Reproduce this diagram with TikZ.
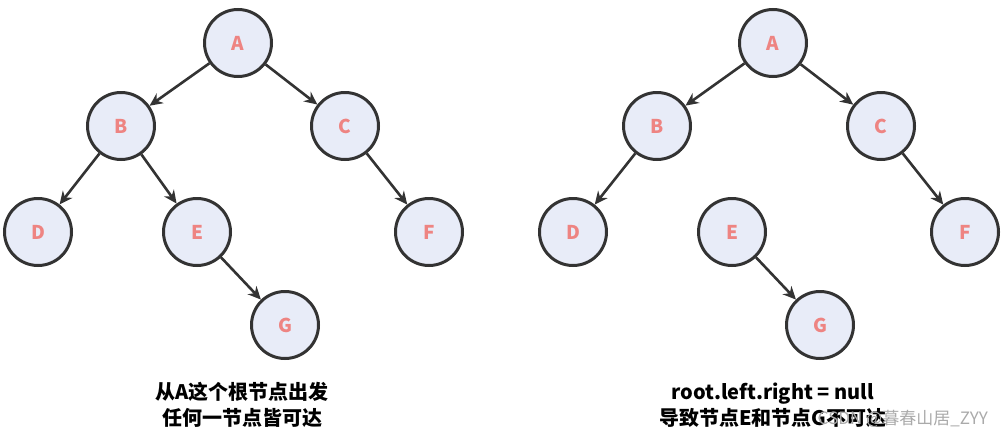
\documentclass[tikz,border=0pt]{standalone}
\usepackage{fontspec}
\newfontfamily\cjk{Noto Sans CJK SC}
\usetikzlibrary{arrows.meta}
\definecolor{nodefill}{RGB}{232,236,248}
\definecolor{nodeline}{RGB}{51,51,51}
\definecolor{lettercol}{RGB}{238,132,130}
\definecolor{wmcol}{RGB}{170,170,170}
\tikzset{
  tnode/.style={circle, draw=nodeline, fill=nodefill, line width=3pt, minimum size=67pt, inner sep=0pt,
    text=lettercol, font=\cjk\bfseries\fontsize{19}{19}\selectfont},
  edge/.style={draw=nodeline, line width=2.6pt, -{Stealth[length=13pt,width=12pt]}},
  caption/.style={font=\cjk\bfseries\fontsize{20}{26}\selectfont, text=black, align=center, inner sep=0pt},
}
\begin{document}
\begin{tikzpicture}[x=1pt,y=-1pt]
\useasboundingbox (0,0) rectangle (1004,442);
% left tree
\node[tnode] (lA) at (238,43) {A};
\node[tnode] (lB) at (121,126) {B};
\node[tnode] (lC) at (345,126) {C};
\node[tnode] (lD) at (38,232) {D};
\node[tnode] (lE) at (197,232) {E};
\node[tnode] (lF) at (429,232) {F};
\node[tnode] (lG) at (285,325) {G};
\draw[edge] (lA) -- (lB);
\draw[edge] (lA) -- (lC);
\draw[edge] (lB) -- (lD);
\draw[edge] (lB) -- (lE);
\draw[edge] (lC) -- (lF);
\draw[edge] (lE) -- (lG);
% right tree
\node[tnode] (rA) at (773,43) {A};
\node[tnode] (rB) at (657,126) {B};
\node[tnode] (rC) at (881,126) {C};
\node[tnode] (rD) at (573,232) {D};
\node[tnode] (rE) at (732,232) {E};
\node[tnode] (rF) at (965,232) {F};
\node[tnode] (rG) at (820,325) {G};
\draw[edge] (rA) -- (rB);
\draw[edge] (rA) -- (rC);
\draw[edge] (rB) -- (rD);
\draw[edge] (rC) -- (rF);
\draw[edge] (rE) -- (rG);
% captions
\node[caption] (capL) at (242,405) {从A这个根节点出发\\任何一节点皆可达};
\node[caption] (capR) at (773,405) {root.left.right = null\\导致节点E和节点G不可达};
\node[font=\cjk\fontsize{17}{17}\selectfont, text=wmcol, anchor=east, inner sep=0pt] (wm) at (988,419) {CSDN @暮春山居\_ZYY};
\end{tikzpicture}
\end{document}
